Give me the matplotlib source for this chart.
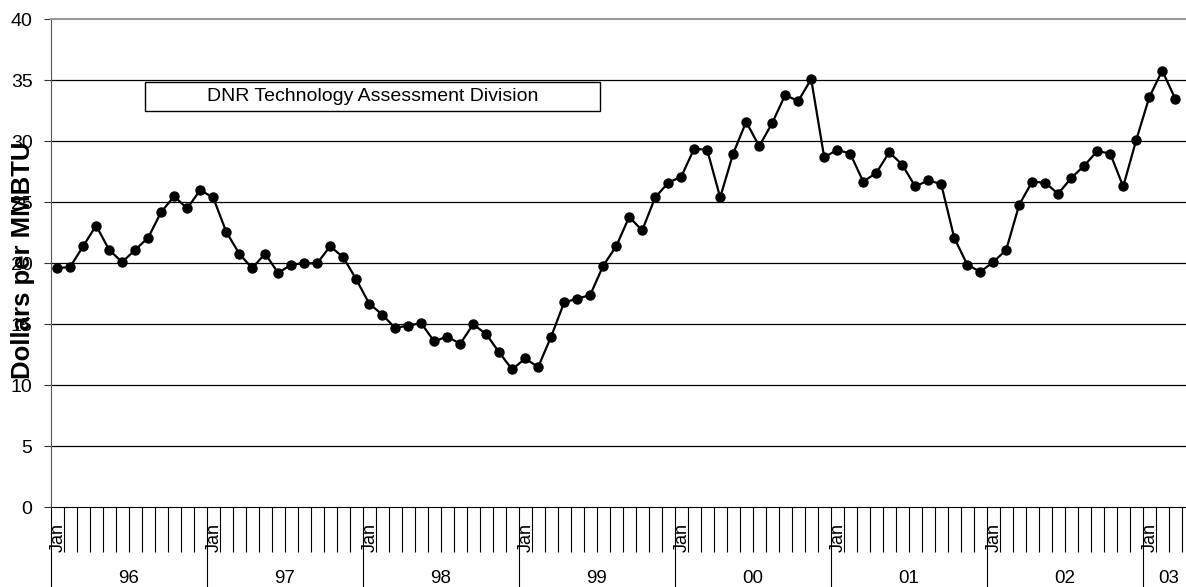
import matplotlib.pyplot as plt
from matplotlib.patches import Rectangle
from matplotlib.ticker import FixedLocator, NullFormatter

plt.rcParams['font.family'] = ['Liberation Sans', 'DejaVu Sans']

# monthly price, Jan 1996 .. Mar 2003 ($ per MMBTU)
prices = [19.6, 19.7, 21.4, 23.1, 21.1, 20.1, 21.1, 22.1, 24.2, 25.5, 24.5, 26.0,
          25.4, 22.6, 20.8, 19.6, 20.8, 19.2, 19.9, 20.0, 20.0, 21.4, 20.5, 18.7,
          16.7, 15.8, 14.7, 14.9, 15.1, 13.6, 14.0, 13.4, 15.0, 14.2, 12.7, 11.3,
          12.2, 11.5, 14.0, 16.8, 17.1, 17.4, 19.8, 21.4, 23.8, 22.7, 25.4, 26.6,
          27.1, 29.4, 29.3, 25.4, 29.0, 31.6, 29.6, 31.5, 33.8, 33.3, 35.1, 28.7,
          29.3, 29.0, 26.7, 27.4, 29.1, 28.1, 26.3, 26.8, 26.5, 22.1, 19.9, 19.3,
          20.1, 21.1, 24.8, 26.7, 26.6, 25.7, 27.0, 28.0, 29.2, 29.0, 26.3, 30.1,
          33.6, 35.8, 33.5]
years = ['96', '97', '98', '99', '00', '01', '02', '03']
month_label = 'Jan'
y_ticks = [0, 5, 10, 15, 20, 25, 30, 35, 40]

fig = plt.figure(figsize=(11.86, 5.87), dpi=100)
ax = fig.add_axes([0.0427, 0.1358, 0.9573, 0.8312])

x = [i + 0.5 for i in range(len(prices))]
ax.plot(x, prices, color='black', lw=1.6, marker='o', ms=6.5, zorder=3)

ax.set_xlim(0, 87.33)
ax.set_ylim(0, 40)
ax.set_yticks(y_ticks)
ax.tick_params(axis='y', length=5, width=0.8, pad=8, labelsize=14, color='#333333')
for v in y_ticks[1:-1]:
    ax.axhline(v, color='black', lw=0.9, zorder=1)

ax.spines['right'].set_visible(False)
ax.spines['top'].set_color('#999999')
ax.spines['top'].set_linewidth(1.5)
ax.spines['left'].set_color('#555555')
ax.spines['bottom'].set_color('black')

# month ticks below the axis, longer at year boundaries
n = len(prices)
year_starts = list(range(0, n + 1, 12))
ax.xaxis.set_major_locator(FixedLocator(year_starts))
ax.xaxis.set_minor_locator(FixedLocator([m for m in range(1, n + 1) if m % 12]))
ax.xaxis.set_major_formatter(NullFormatter())
ax.tick_params(axis='x', which='major', direction='out', length=58, width=0.8)
ax.tick_params(axis='x', which='minor', direction='out', length=32.5, width=0.8)

tr = ax.get_xaxis_transform()
for k, yr in enumerate(years):
    start = 12 * k
    end = min(start + 12, n + 1)
    ax.text(start + 0.55, -0.0916, month_label, rotation=90, ha='center', va='bottom',
            fontsize=13, transform=tr, clip_on=False)
    ax.text((start + end) / 2, -0.145, yr, ha='center', va='center',
            fontsize=13.5, transform=tr, clip_on=False)

ax.add_patch(Rectangle((0.0831, 0.812), 0.4008, 0.0594, transform=ax.transAxes,
                       facecolor='white', edgecolor='black', lw=1, zorder=4))
ax.text(0.0831 + 0.2004, 0.812 + 0.0297, 'DNR Technology Assessment Division',
        transform=ax.transAxes, ha='center', va='center', fontsize=14, zorder=5)

fig.text(0.0195, 0.557, 'Dollars per MMBTU', rotation=90, ha='center', va='center',
         fontsize=18.5, fontweight='bold')

fig.savefig('out.png', dpi=100)
